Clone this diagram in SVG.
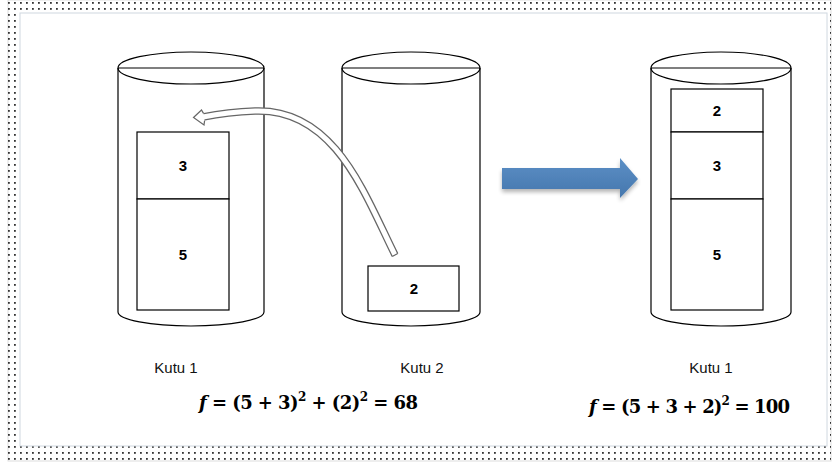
<svg xmlns="http://www.w3.org/2000/svg" width="832" height="467" viewBox="0 0 832 467">
<defs>
<pattern id="dots" width="6" height="6" patternUnits="userSpaceOnUse">
<rect x="2" y="2" width="1.8" height="1.8" fill="#333"/>
</pattern>
<linearGradient id="bl" x1="0" y1="0" x2="0" y2="1">
<stop offset="0" stop-color="#5b8fc6"/><stop offset="1" stop-color="#4677ad"/>
</linearGradient>
<filter id="sh" x="-10%" y="-20%" width="120%" height="160%">
<feGaussianBlur in="SourceAlpha" stdDeviation="2"/>
<feOffset dy="3"/>
<feComponentTransfer><feFuncA type="linear" slope="0.3"/></feComponentTransfer>
<feMerge><feMergeNode/><feMergeNode in="SourceGraphic"/></feMerge>
</filter>
</defs>
<style>
.cyl{fill:none;stroke:#000;stroke-width:1.2}
.box{fill:#fff;stroke:#000;stroke-width:1.2}
.num{font-family:"Liberation Sans",Arial,sans-serif;font-weight:bold;font-size:15px;text-anchor:middle}
.lbl{font-family:"Liberation Sans",Arial,sans-serif;font-size:15px;text-anchor:middle;fill:#111}
.eq{font-family:"DejaVu Serif","Liberation Serif",serif;font-weight:bold;font-size:18px}
</style>
<rect x="8" y="0" width="823" height="461" fill="#fff" stroke="#ddd" stroke-width="1"/>
<rect x="8" y="0" width="823" height="461" fill="url(#dots)"/>
<rect x="20" y="13" width="807" height="433" fill="#fff" stroke="#d0d8e0" stroke-width="1"/>

<g id="cyl1">
<path class="cyl" d="M118,68 L118,312 A73,14 0 0 0 264,312 L264,68"/>
<ellipse class="cyl" cx="191" cy="68" rx="73" ry="16"/>
<line class="cyl" x1="118" y1="68" x2="264" y2="68"/>
<rect class="box" x="137" y="132" width="92" height="67"/>
<text class="num" x="183" y="171">3</text>
<rect class="box" x="137" y="199" width="92" height="111"/>
<text class="num" x="183" y="260">5</text>
</g>

<g id="cyl2">
<path class="cyl" d="M342,68 L342,312 A69,14 0 0 0 480,312 L480,68"/>
<ellipse class="cyl" cx="411" cy="68" rx="69" ry="16"/>
<line class="cyl" x1="342" y1="68" x2="480" y2="68"/>
<rect class="box" x="368" y="266" width="91" height="45"/>
<text class="num" x="414" y="294">2</text>
</g>

<g id="cyl3">
<path class="cyl" d="M651,68 L651,312 A70,14 0 0 0 791,312 L791,68"/>
<ellipse class="cyl" cx="721" cy="68" rx="70" ry="16"/>
<line class="cyl" x1="651" y1="68" x2="791" y2="68"/>
<rect class="box" x="671" y="89" width="92" height="43"/>
<text class="num" x="717" y="116">2</text>
<rect class="box" x="671" y="132" width="92" height="67"/>
<text class="num" x="717" y="171">3</text>
<rect class="box" x="671" y="199" width="92" height="111"/>
<text class="num" x="717" y="260">5</text>
</g>

<g id="connectors">
<path d="M395,255 C365,195 335,108 255,111 Q228,112 203,117" fill="none" stroke="#666" stroke-width="7.5"/>
<path d="M395,255 C365,195 335,108 255,111 Q228,112 203,117" fill="none" stroke="#fff" stroke-width="5"/>
<path d="M392.3,256.5 L397.7,253.5" stroke="#666" stroke-width="1.2"/>
<polygon points="203.5,113.4 201.5,110 193.5,117.5 204,125 204.6,120.6" fill="#fff"/>
<polyline points="203.5,113.4 201.5,110 193.5,117.5 204,125 204.6,120.6" fill="none" stroke="#666" stroke-width="1.2"/>
<path d="M502,168 L620,168 L620,158 L638,179 L620,198 L620,189 L502,189 Z" fill="url(#bl)" filter="url(#sh)"/>
</g>

<g id="labels">
<text class="lbl" x="176" y="373">Kutu 1</text>
<text class="lbl" x="422" y="373">Kutu 2</text>
<text class="lbl" x="711" y="373">Kutu 1</text>
<text class="eq" x="199" y="409" textLength="219" lengthAdjust="spacing"><tspan font-style="italic">f</tspan> = (5 + 3)<tspan font-size="12" dy="-8">2</tspan><tspan dy="8"> +  (2)</tspan><tspan font-size="12" dy="-8">2</tspan><tspan dy="8"> = 68</tspan></text>
<text class="eq" x="589" y="413" textLength="201" lengthAdjust="spacing"><tspan font-style="italic">f</tspan> = (5 + 3 + 2)<tspan font-size="12" dy="-8">2</tspan><tspan dy="8"> = 100</tspan></text>
</g>
</svg>
